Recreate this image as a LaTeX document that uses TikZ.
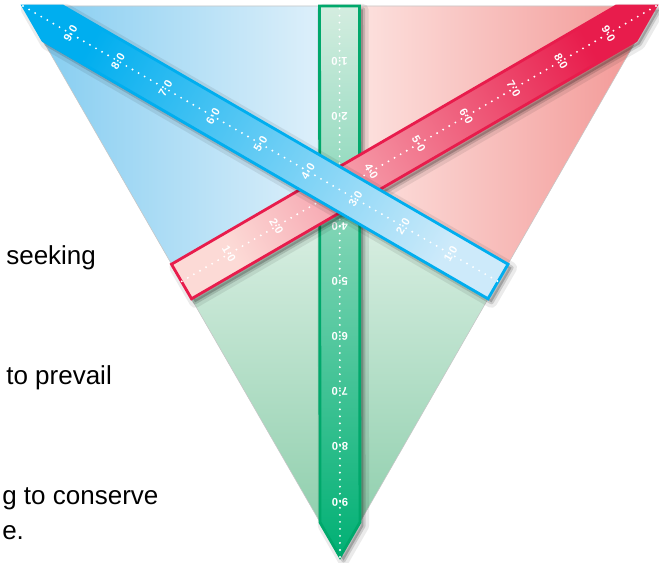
\documentclass[tikz,border=0pt]{standalone}
\usepackage{fontspec}
\setmainfont{Liberation Sans}
\usetikzlibrary{calc,shadows}

\definecolor{blueline}{RGB}{0,174,239}
\definecolor{bluelight}{RGB}{205,234,250}
\definecolor{redline}{RGB}{232,28,76}
\definecolor{redlight}{RGB}{252,218,214}
\definecolor{greenline}{RGB}{0,168,107}
\definecolor{greenlight}{RGB}{212,237,224}
\definecolor{greendark}{RGB}{0,176,116}
\definecolor{blueside}{RGB}{128,203,240}
\definecolor{bluepale}{RGB}{228,242,251}
\definecolor{redside}{RGB}{242,148,146}
\definecolor{redpale}{RGB}{253,230,227}
\definecolor{greenside}{RGB}{136,204,168}
\definecolor{greenpale}{RGB}{224,241,231}

\begin{document}
\begin{tikzpicture}[x=0.025cm, y=-0.025cm,
    edge/.style={draw=gray!45, line width=0.4pt},
    ruler/.style={line width=2pt, line join=miter,
      drop shadow={shadow xshift=2.5pt, shadow yshift=-2.5pt, opacity=0.08, fill=black, draw=black, line width=8pt, line join=round},
      drop shadow={shadow xshift=2.5pt, shadow yshift=-2.5pt, opacity=0.14, fill=black, draw=black, line width=3pt, line join=round}},
    dots/.style={draw=white, line width=1.5pt, line cap=round, dash pattern=on 0pt off 5pt},
    num/.style={text=white, inner sep=0pt, font=\fontsize{8}{8}\selectfont\bfseries},
    words/.style={anchor=base west, inner sep=0pt, font=\fontsize{18.5}{22}\selectfont}]
  \useasboundingbox (0,0) rectangle (659,563);
  % corners and middles of the sides
  \coordinate (A) at (23,6);
  \coordinate (B) at (656,6);
  \coordinate (C) at (340,557);
  \coordinate (mAB) at ($(A)!0.5!(B)$);
  \coordinate (mBC) at ($(B)!0.5!(C)$);
  \coordinate (mCA) at ($(C)!0.5!(A)$);
  \coordinate (G) at ($(A)!2/3!(mBC)$);

  % the three parts of the triangle
  \shade[left color=blueside, right color=bluepale] (A) -- (mAB) -- (G) -- (mCA) -- cycle;
  \shade[left color=redpale, right color=redside] (B) -- (mAB) -- (G) -- (mBC) -- cycle;
  \shade[top color=greenpale, bottom color=greenside] (C) -- (mCA) -- (G) -- (mBC) -- cycle;
  \draw[edge] (A) -- (B) -- (C) -- cycle;

  % green ruler
  \draw[ruler, draw=greenline, top color=greenlight, bottom color=greendark]
    (C) -- ($(C)!24.6pt!(mAB)!14.2pt!90:(mAB)$) -- ($(mAB)!14.2pt!-90:(C)$)
    -- ($(mAB)!14.2pt!90:(C)$) -- ($(C)!24.6pt!(mAB)!14.2pt!-90:(mAB)$) -- cycle;
  \draw[dots] (C) -- (mAB);
  \foreach \k in {1,...,9}
    \node[num, rotate=180] (g\k) at ($(mAB)!\k/10!(C)$) {\k·0};

  % red ruler
  \draw[ruler, draw=redline, top color=redline, bottom color=redlight, shading angle=-59.7]
    (B) -- ($(B)!24.6pt!(mCA)!14.2pt!90:(mCA)$) -- ($(mCA)!14.2pt!-90:(B)$)
    -- ($(mCA)!14.2pt!90:(B)$) -- ($(B)!24.6pt!(mCA)!14.2pt!-90:(mCA)$) -- cycle;
  \draw[dots] (B) -- (mCA);
  \foreach \k in {1,2,4,5,6,7,8,9}
    \node[num, rotate=-59.7] (r\k) at ($(mCA)!\k/10!(B)$) {\k·0};

  % blue ruler
  \draw[ruler, draw=blueline, top color=blueline, bottom color=bluelight, shading angle=59.7]
    (A) -- ($(A)!24.6pt!(mBC)!14.2pt!90:(mBC)$) -- ($(mBC)!14.2pt!-90:(A)$)
    -- ($(mBC)!14.2pt!90:(A)$) -- ($(A)!24.6pt!(mBC)!14.2pt!-90:(mBC)$) -- cycle;
  \draw[dots] (A) -- (mBC);
  \foreach \k in {1,...,9}
    \node[num, rotate=59.7] (b\k) at ($(mBC)!\k/10!(A)$) {\k·0};

  % text on the left
  \node[words] (seek) at (6,265) {seeking};
  \node[words] (prevail) at (6,385) {to prevail};
  \node[words] (conserve) at (2,505) {g to conserve};
  \node[words] (rest) at (2,540) {e.};
\end{tikzpicture}
\end{document}
